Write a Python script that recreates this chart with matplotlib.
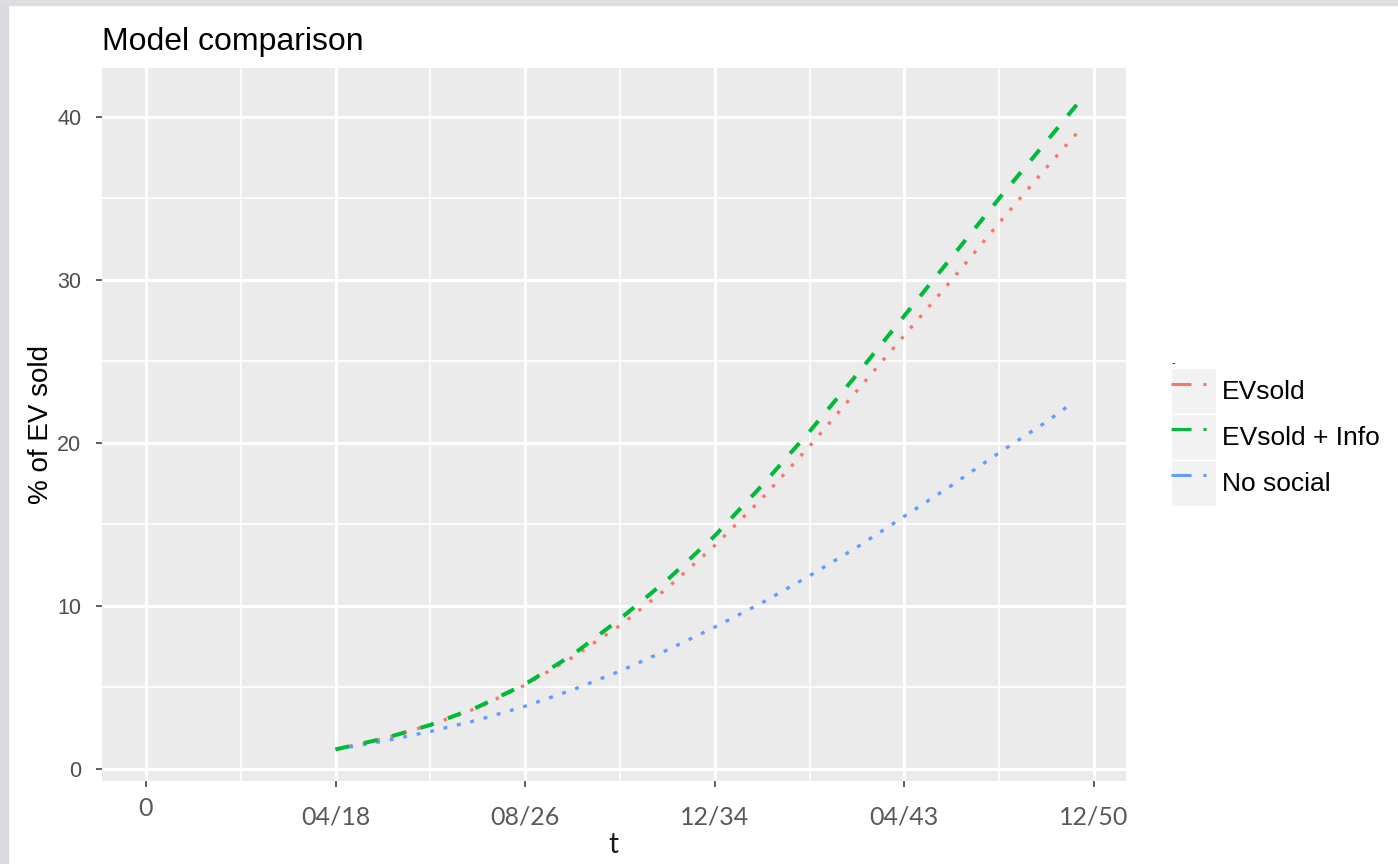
import matplotlib
matplotlib.use("Agg")
import matplotlib.pyplot as plt
from matplotlib.patches import Rectangle
from matplotlib.lines import Line2D
from matplotlib.legend_handler import HandlerTuple
from matplotlib.transforms import ScaledTranslation

plt.rcParams['lines.scale_dashes'] = False
plt.rcParams['font.family'] = ['Liberation Sans', 'DejaVu Sans']

# DATA (t in months, 0 = 12/2009)
t_evsold = [100, 125, 150, 175, 200, 225, 250, 275, 300, 325, 350, 375, 400, 425, 450, 475, 491]
evsold = [1.2, 1.85, 2.7, 3.75, 5.15, 6.85, 8.8, 11.1, 13.7, 16.6, 19.8, 23.2, 26.6, 30.0, 33.5, 36.9, 39.0]

t_info = [100, 125, 150, 175, 200, 225, 250, 275, 300, 325, 350, 375, 400, 425, 450, 475, 492]
evsold_info = [1.2, 1.85, 2.7, 3.8, 5.2, 7.0, 9.2, 11.6, 14.3, 17.4, 20.7, 24.2, 27.8, 31.4, 35.0, 38.5, 40.9]

t_nosocial = [100, 125, 150, 175, 200, 225, 250, 275, 300, 325, 350, 375, 400, 425, 450, 475, 488]
no_social = [1.2, 1.7, 2.3, 3.0, 3.85, 4.85, 6.0, 7.3, 8.7, 10.2, 11.85, 13.6, 15.5, 17.4, 19.4, 21.3, 22.4]

series_names = ["EVsold", "EVsold + Info", "No social"]
x_ticks = [0, 100, 200, 300, 400, 500]
x_tick_labels = ["0", "04/18", "08/26", "12/34", "04/43", "12/50"]
y_ticks = [0, 10, 20, 30, 40]

# FIGURE
W, H = 1398, 864
fig = plt.figure(figsize=(W / 100, H / 100), dpi=100)
fig.patches.append(Rectangle((0, 0), 8 / W, 1, transform=fig.transFigure, color='#D9DADD', zorder=0))
fig.patches.append(Rectangle((0, 1 - 5 / H), 1, 5 / H, transform=fig.transFigure, color='#DCDDE0', zorder=0))

ax = fig.add_axes([102 / W, 1 - 781 / H, (1126 - 102) / W, (781 - 68) / H])
ax.set_facecolor('#EBEBEB')
for s in ax.spines.values():
    s.set_visible(False)

ax.set_xlim(-23.2, 516.9)
ax.set_ylim(-0.74, 43.0)

ax.set_xticks(x_ticks)
ax.set_xticklabels(x_tick_labels, family=['Lato', 'DejaVu Sans'], fontsize=18, color='#595959')
ax.set_xticks([50, 150, 250, 350, 450], minor=True)
ax.set_yticks(y_ticks)
ax.set_yticks([5, 15, 25, 35], minor=True)
ax.tick_params(axis='x', which='major', length=4.5, width=1.1, color='#333333', pad=13)
ax.tick_params(axis='y', which='major', length=4, width=1.1, color='#333333', pad=11,
               labelsize=15.5, labelcolor='#4D4D4D')
ax.tick_params(which='minor', length=0)
ax.grid(which='major', color='white', linewidth=2.2)
ax.grid(which='minor', color='white', linewidth=1.2)
ax.set_axisbelow(True)

# "0" label sits a little higher in the reference
ax.get_xticklabels()[0].set_transform(
    ax.get_xticklabels()[0].get_transform() + ScaledTranslation(0, 6 / 72, fig.dpi_scale_trans))

colors = ['#F8766D', '#00BA38', '#619CFF']
ax.plot(t_evsold, evsold, color=colors[0], linewidth=2.4, dashes=(2.4, 7.7), zorder=3)
ax.plot(t_nosocial, no_social, color=colors[2], linewidth=2.4, dashes=(2.8, 7.1), zorder=3)
ax.plot(t_info, evsold_info, color=colors[1], linewidth=2.9, dashes=(10, 11), zorder=4)

ax.set_ylabel('% of EV sold', fontsize=20, color='black', va='center')
ax.yaxis.set_label_coords(-0.06, 0.5)
ax.set_xlabel('t', family=['Lato', 'DejaVu Sans'], fontsize=20, color='#1A1A1A', va='center')
ax.xaxis.set_label_coords(0.499, -0.09)
ax.set_title('Model comparison', loc='left', fontsize=23, pad=13, color='black')

# LEGEND
handles = []
for c in colors:
    box = Rectangle((0, 0), 1, 1, facecolor='#F2F2F2', edgecolor='white', linewidth=1)
    ln = Line2D([0], [0], color=c, linewidth=2.2, dashes=(14.4, 8.6, 2.2, 10))
    handles.append((box, ln))
leg = fig.legend(handles, series_names, handler_map={tuple: HandlerTuple(ndivide=1, pad=0)},
                 loc='upper left', bbox_to_anchor=(1171 / W, 1 - 358 / H), frameon=False,
                 fontsize=19, handlelength=1.72, handleheight=2.3, handletextpad=0.2,
                 labelspacing=0.0, borderpad=0, borderaxespad=0,
                 title='-', title_fontsize=8, alignment='left')

fig.savefig('out.png', dpi=100)
